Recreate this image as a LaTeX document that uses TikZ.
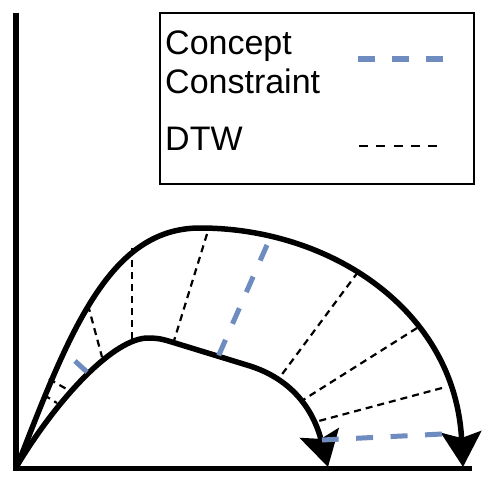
\documentclass[tikz,border=0pt]{standalone}
\usepackage{fontspec}
\setmainfont{Liberation Sans}
\usetikzlibrary{arrows.meta}
\definecolor{cblue}{RGB}{110,140,192}
\tikzset{
  curvestyle/.style={line width=5.5pt, line cap=round, line join=round,
    -{Stealth[length=35pt,width=40pt,inset=6pt]}},
  axisstyle/.style={line width=5.5pt},
  dtwline/.style={line width=2.2pt, dash pattern=on 7pt off 5pt},
  ccline/.style={line width=5pt, color=cblue, dash pattern=on 17pt off 17.5pt},
  legtext/.style={anchor=base west, inner sep=0pt, font=\fontsize{34}{39}\selectfont},
}
\begin{document}
\begin{tikzpicture}[x=1pt,y=-1pt]
\useasboundingbox (0,0) rectangle (500,484);
% axes
\coordinate (ytop) at (16,13);
\coordinate (orig) at (16,468);
\coordinate (xend) at (472,468);
\draw[axisstyle] (ytop) -- (16,470.75);
\draw[line width=5pt] (13.25,468) -- (xend);
% curves
\draw[curvestyle] (18,464) .. controls (70,330) and (110,228) .. (200,228)
  .. controls (330,228) and (455,310) .. (463,467);
\draw[curvestyle] (18,464) .. controls (60,395) and (115,338) .. (148,338)
  .. controls (160,338) and (165,340) .. (175,343)
  -- (250,366)
  .. controls (300,382) and (316,420) .. (328,467);
% DTW correspondences
\coordinate (o1) at (44,395); \coordinate (i1) at (57,403);
\coordinate (o2) at (49,379); \coordinate (i2) at (70,391);
\coordinate (o3) at (88,305); \coordinate (i3) at (102,357);
\coordinate (o4) at (132,248); \coordinate (i4) at (132,342);
\coordinate (o5) at (207,234); \coordinate (i5) at (173,344);
\coordinate (o7) at (358,272); \coordinate (i7) at (280,377);
\coordinate (o8) at (417,328); \coordinate (i8) at (303,400);
\coordinate (o9) at (442,388); \coordinate (i9) at (315,422);
\foreach \a/\b in {o1/i1,o2/i2,o3/i3,o4/i4,o5/i5,o7/i7,o8/i8,o9/i9}
  \draw[dtwline] (\a) -- (\b);
% concept constraint correspondences
\coordinate (c1o) at (75,361); \coordinate (c1i) at (87,372);
\coordinate (c2o) at (267,245); \coordinate (c2i) at (218,357);
\coordinate (c3o) at (442,434); \coordinate (c3i) at (322,440);
\draw[line width=5pt, color=cblue] (c1o) -- (c1i);
\draw[ccline] (c2o) -- (c2i);
\draw[ccline] (c3o) -- (c3i);
% legend
\node[draw, line width=2pt, minimum width=314pt, minimum height=171pt, anchor=north west, inner sep=0pt] (legend) at (159,12) {};
\node[legtext] (t1) at (165,55) {Concept};
\node[legtext] (t2) at (165,94) {Constraint};
\node[legtext] (t3) at (165,150) {DTW};
\coordinate (lb1) at (358,59); \coordinate (lb2) at (443,59);
\coordinate (lk1) at (359,146); \coordinate (lk2) at (437,146);
\draw[line width=6pt, color=cblue, dash pattern=on 17pt off 17pt] (lb1) -- (lb2);
\draw[line width=2pt, dash pattern=on 9pt off 8.25pt] (lk1) -- (lk2);
\end{tikzpicture}
\end{document}
